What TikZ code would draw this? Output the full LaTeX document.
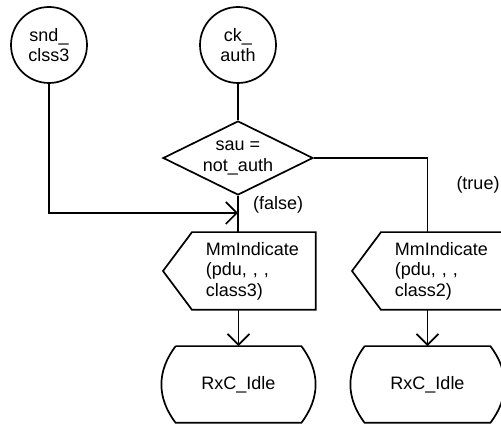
\documentclass[tikz,border=0pt]{standalone}
\usepackage{fontspec}
\setmainfont{Liberation Sans}
\usetikzlibrary{arrows.meta,shapes.geometric,calc}
\tikzset{
  every picture/.style={line width=1.7pt},
  lbl/.style={font=\fontsize{18}{20.5}\selectfont},
  conn/.style={draw=black},
  arr/.style={-{Straight Barb[length=11pt,width=22pt]}},
  term/.style={lbl,circle,draw,minimum size=76pt,inner sep=0pt,align=center},
  decision/.style={lbl,diamond,draw,minimum width=150pt,minimum height=74pt,inner sep=0pt,aspect=2,align=center},
  outtext/.style={lbl,anchor=west,text width=109pt,minimum height=76pt,inner sep=0pt,align=left},
  statebox/.style={lbl,minimum width=124pt,minimum height=75pt,inner sep=0pt},
}
\newcommand{\outshape}[1]{%
  \draw ($(#1.west)+(-42,0)$) -- ($(#1.north west)+(-13,0)$) -- (#1.north east)
        -- (#1.south east) -- ($(#1.south west)+(-13,0)$) -- cycle;}
\newcommand{\stateshape}[1]{%
  \draw (#1.north west) -- (#1.north east)
        .. controls +(19,25) and +(19,-25) .. (#1.south east)
        -- (#1.south west)
        .. controls +(-19,-25) and +(-19,25) .. (#1.north west);}
\begin{document}
\begin{tikzpicture}[x=1pt,y=-1pt]
\useasboundingbox (0,0) rectangle (501,427);
\node[term] (s) at (49,45) {snd\_\\clss3};
\node[term] (c) at (238,45) {ck\_\\auth};
\node[decision] (d) at (238,158) {sau =\\not\_auth};
\node[outtext] (m1) at (205,271) {MmIndicate\\(pdu, , ,\\class3)};
\node[outtext] (m2) at (394,271) {MmIndicate\\(pdu, , ,\\class2)};
\outshape{m1}
\outshape{m2}
\node[statebox] (r1) at (238.5,384.5) {RxC\_Idle};
\node[statebox] (r2) at (427.5,384.5) {RxC\_Idle};
\stateshape{r1}
\stateshape{r2}
\coordinate (j) at (238,213);
\node[lbl,anchor=west] (fl) at (249,205) {(false)};
\node[lbl] (tl) at (478,185) {(true)};
\draw[conn] (c.south) -- (d.north);
\draw[conn] (d.south) -- (d.south |- m1.north);
\draw[conn,arr] (s.south) |- (j);
\draw[conn] (d.east) -| (r2.north |- m2.north);
\draw[conn,arr] (r1.north |- m1.south) -- (r1.north);
\draw[conn,arr] (r2.north |- m2.south) -- (r2.north);
\end{tikzpicture}
\end{document}
